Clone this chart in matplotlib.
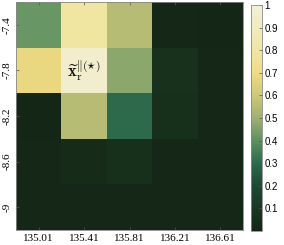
import numpy as np
import matplotlib
matplotlib.use("Agg")
import matplotlib.pyplot as plt
from matplotlib.colors import LinearSegmentedColormap

plt.rcParams["mathtext.fontset"] = "cm"

lon = [135.01, 135.41, 135.81, 136.21, 136.61]
lat = [-7.4, -7.8, -8.2, -8.6, -9.0]
lon_labels = ["135.01", "135.41", "135.81", "136.21", "136.61"]
lat_labels = ["-7.4", "-7.8", "-8.2", "-8.6", "-9"]
# rows follow lat (top to bottom), columns follow lon
values = np.array([
    [0.42, 0.80, 0.55, 0.02, 0.01],
    [0.68, 0.95, 0.47, 0.07, 0.02],
    [0.01, 0.55, 0.30, 0.06, 0.02],
    [0.02, 0.04, 0.06, 0.02, 0.02],
    [0.02, 0.02, 0.02, 0.02, 0.02],
])
cbar_ticks = [0.1, 0.2, 0.3, 0.4, 0.5, 0.6, 0.7, 0.8, 0.9, 1.0]
cbar_labels = ["0.1", "0.2", "0.3", "0.4", "0.5", "0.6", "0.7", "0.8", "0.9", "1"]

anchors = [
    (0.00, "#142414"),
    (0.10, "#183822"),
    (0.20, "#1d4a32"),
    (0.30, "#2c6b4c"),
    (0.40, "#5c9160"),
    (0.50, "#a0b070"),
    (0.60, "#cdc878"),
    (0.70, "#efdc80"),
    (0.80, "#f1e5a2"),
    (0.90, "#f1ebbe"),
    (1.00, "#f2f0da"),
]
cmap = LinearSegmentedColormap.from_list("speedr", anchors)

fig = plt.figure(figsize=(2.84, 2.45), dpi=100)
ax = fig.add_axes([16/284, 15/245, 227/284, 228/245])
cax = fig.add_axes([251/284, 14/245, 11/284, 226/245])

lon_a = np.array(lon)
lat_a = np.array(lat)
dx = lon_a[1] - lon_a[0]
dy = lat_a[0] - lat_a[1]
xe = np.concatenate([lon_a - dx/2, [lon_a[-1] + dx/2]])
ye = np.concatenate([lat_a + dy/2, [lat_a[-1] - dy/2]])
mesh = ax.pcolormesh(xe, ye, values, cmap=cmap, vmin=0, vmax=1, shading="flat")
ax.set_xlim(xe[0], xe[-1])
ax.set_ylim(ye[-1], ye[0])

ax.set_xticks(lon)
ax.set_xticklabels(lon_labels, fontfamily="Liberation Serif", fontsize=8)
ax.set_yticks(lat)
ax.set_yticklabels(lat_labels, fontfamily="Liberation Serif", fontsize=8,
                   rotation=90, va="center")
ax.tick_params(direction="in", length=2, width=0.5, color="#555555",
               top=True, right=False, pad=3)
for s in ax.spines.values():
    s.set_color("#888888")
    s.set_linewidth(0.6)

ax.text(lon[1], lat[1], r"$\widetilde{\mathbf{x}}_{\mathrm{r}}^{\|(\star)}$",
        ha="center", va="center", fontsize=12, color="#111111")

cb = fig.colorbar(mesh, cax=cax, ticks=cbar_ticks)
cb.ax.set_yticklabels(cbar_labels, fontfamily="Liberation Sans", fontsize=7)
cb.ax.tick_params(direction="in", length=2, width=0.5, color="#555555", pad=2)
cb.outline.set_edgecolor("#888888")
cb.outline.set_linewidth(0.6)

fig.savefig("out.png", dpi=100)
